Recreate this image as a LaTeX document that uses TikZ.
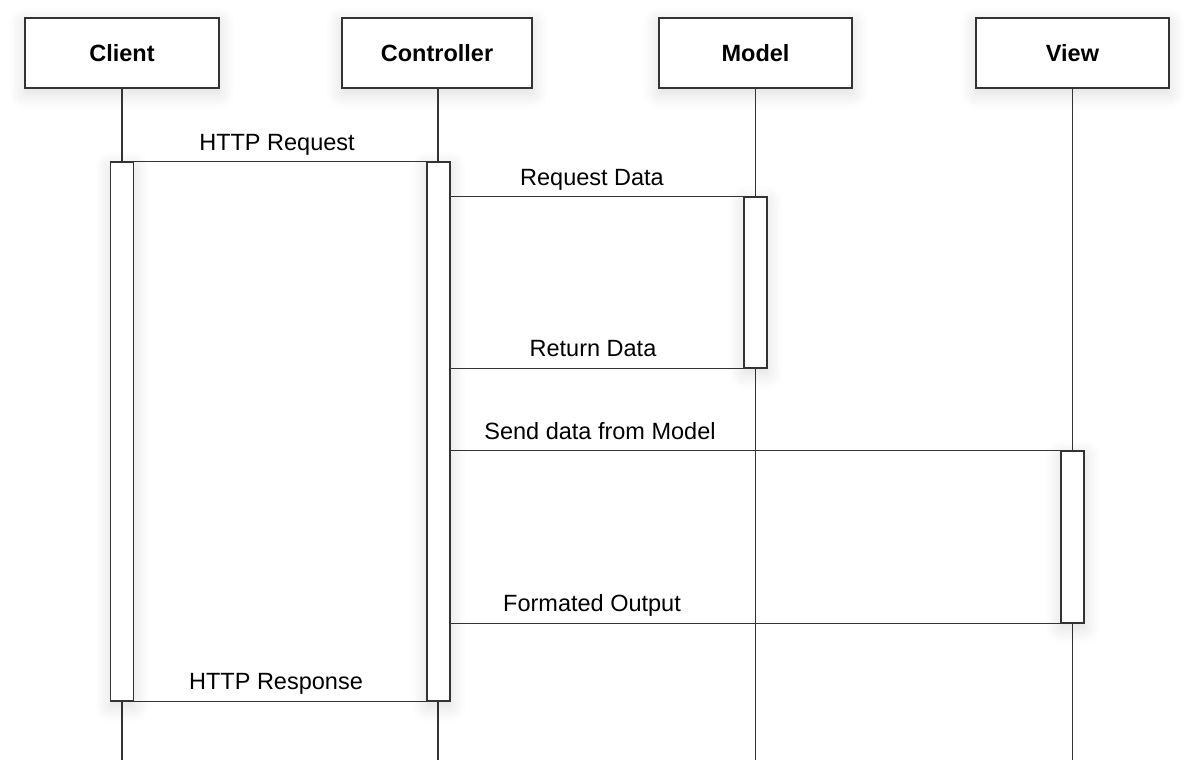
\documentclass[tikz,border=0pt]{standalone}
\usepackage{fontspec}
\setmainfont{Liberation Sans}
\usetikzlibrary{shadows.blur}
\tikzset{
  ln/.style={draw=black!80, line width=1.1pt},
  soft/.style={blur shadow={shadow blur steps=14, shadow xshift=0pt, shadow yshift=-5pt, shadow opacity=14, shadow blur radius=16pt}},
  head/.style={ln, fill=white, rectangle, minimum width=194pt, minimum height=70pt, inner sep=0pt,
     font=\fontsize{23.5}{27}\selectfont\bfseries, soft},
  bar/.style={ln, fill=white, rectangle, minimum width=23pt, inner sep=0pt, soft},
  msg/.style={ln},
  lbl/.style={anchor=base, inner sep=0pt, font=\fontsize{23.5}{27}\selectfont},
}
\begin{document}
\begin{tikzpicture}[x=1pt,y=-1pt]
\useasboundingbox (0,0) rectangle (1196,776);
% heads
\node[head] (client) at (122,53) {Client};
\node[head, minimum width=190pt] (ctrl) at (437,53) {Controller};
\node[head, minimum width=193pt] (model) at (755.5,53) {Model};
\node[head, minimum width=193pt] (view) at (1072.5,53) {View};
% lifeline ends
\coordinate (cend) at (122,760);
\coordinate (kend) at (438,760);
\coordinate (mend) at (755.5,760);
\coordinate (vend) at (1072.5,760);
\draw[ln] (client.south) -- (cend);
\draw[ln] (ctrl.south -| kend) -- (kend);
\draw[ln] (model.south) -- (mend);
\draw[ln] (view.south) -- (vend);
% activation bars
\node[bar, minimum height=539pt] (cbar) at (122,431.5) {};
\node[bar, minimum height=539pt] (kbar) at (438.5,431.5) {};
\node[bar, minimum height=171pt] (mbar) at (755.5,282.5) {};
\node[bar, minimum height=172pt] (vbar) at (1072.5,537) {};
% messages
\draw[msg] (cbar.north east) -- (kbar.north west);
\draw[msg] (kbar.east |- mbar.north) -- (mbar.north west);
\draw[msg] (kbar.east |- mbar.south) -- (mbar.south west);
\draw[msg] (kbar.east |- vbar.north) -- (vbar.north west);
\draw[msg] (kbar.east |- vbar.south) -- (vbar.south west);
\draw[msg] (cbar.south east) -- (kbar.south west);
% labels
\node[lbl] (l1) at (277,150.5) {HTTP Request};
\node[lbl] (l2) at (592,185.5) {Request Data};
\node[lbl] (l3) at (593,356.5) {Return Data};
\node[lbl] (l4) at (600,439.5) {Send data from Model};
\node[lbl] (l5) at (592,611.5) {Formated Output};
\node[lbl] (l6) at (276,689.5) {HTTP Response};
\end{tikzpicture}
\end{document}
